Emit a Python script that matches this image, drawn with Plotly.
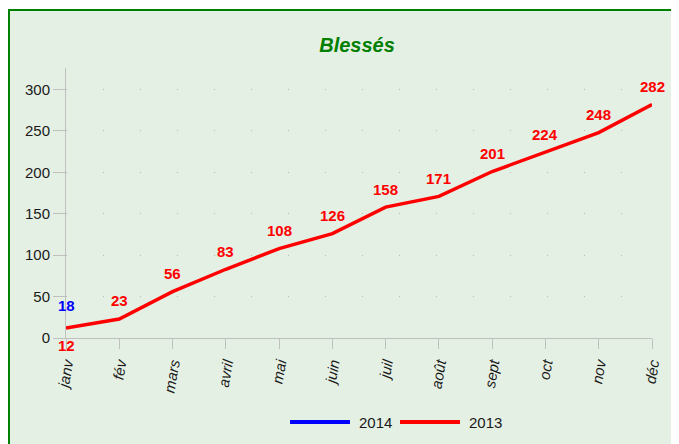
import plotly.graph_objects as go

months = ["janv", "fév", "mars", "avril", "mai", "juin", "juil", "août", "sept", "oct", "nov", "déc"]
values_2014 = [18]
values_2013 = [12, 23, 56, 83, 108, 126, 158, 171, 201, 224, 248, 282]
series_names = ["2014", "2013"]
series_colors = ["#0000FF", "#FF0000"]
y_ticks = [0, 50, 100, 150, 200, 250, 300]

BG = "#E5F0E4"
FONT = "Liberation Sans, Arial, sans-serif"
W, H = 671, 436
# plot area in page pixels: x 66..652, y 68..338
def px(x):
    return (x - 66) / 586
def py(y):
    return (338 - y) / 270

fig = go.Figure()
for name, vals, col in zip(series_names, [values_2014, values_2013], series_colors):
    fig.add_trace(go.Scatter(
        x=months[:len(vals)], y=vals, name=name,
        mode="lines", line=dict(color=col, width=3.5), cliponaxis=False,
        showlegend=False,
    ))

# data labels
for m, v in zip(months, values_2014):
    fig.add_annotation(x=m, y=v, text=f"<b>{v}</b>", showarrow=False, yshift=18,
                       font=dict(family=FONT, size=15, color="#0000FF"))
for i, (m, v) in enumerate(zip(months, values_2013)):
    fig.add_annotation(x=m, y=v, text=f"<b>{v}</b>", showarrow=False,
                       yshift=-17 if i == 0 else 18,
                       font=dict(family=FONT, size=15, color="#FF0000"))

# frame
fig.add_shape(type="rect", xref="paper", yref="paper",
              x0=px(9), x1=1.08, y0=-0.5, y1=py(10),
              line=dict(color="#008000", width=2), fillcolor=BG, layer="below")

# legend (drawn manually to match long line swatches)
for name, col, x0 in zip(series_names, series_colors, [290, 400]):
    fig.add_shape(type="line", xref="paper", yref="paper",
                  x0=px(x0), x1=px(x0 + 60), y0=py(422), y1=py(422),
                  line=dict(color=col, width=4))
    fig.add_annotation(xref="paper", yref="paper", x=px(x0 + 67), y=py(422),
                       xanchor="left", yanchor="middle", showarrow=False,
                       text=name, font=dict(family=FONT, size=15, color="#1a1a1a"))

fig.update_layout(
    width=W, height=H,
    margin=dict(l=58, r=27, t=60, b=106, autoexpand=False),
    paper_bgcolor="white", plot_bgcolor=BG,
    font=dict(family=FONT, size=14, color="#1a1a1a"),
    title=dict(text="<b><i>Blessés</i></b>", x=349 / W, xanchor="center", y=1 - 37 / H, yanchor="middle",
               font=dict(size=20, color="#008000"), automargin=False),
    showlegend=False,
    xaxis=dict(
        categoryorder="array", categoryarray=months,
        range=[0, len(months) - 1], automargin=False,
        tickangle=-80, ticks="outside", ticklen=10, tickcolor="#C0C0C0",
        showline=True, linecolor="#C0C0C0", linewidth=1,
        showgrid=False, zeroline=False,
        tickfont=dict(size=15, style="italic", color="#1a1a1a"),
    ),
    yaxis=dict(
        range=[0, 326], tickvals=y_ticks, automargin=False,
        ticks="outside", ticklen=12, tickcolor="#C0C0C0",
        showline=True, linecolor="#C0C0C0", linewidth=1,
        showgrid=True, gridcolor="#B8B8B8", griddash="1px,36px", gridwidth=1,
        zeroline=False,
        tickfont=dict(size=15, color="#1a1a1a"),
    ),
)

fig.write_html("out.html")
